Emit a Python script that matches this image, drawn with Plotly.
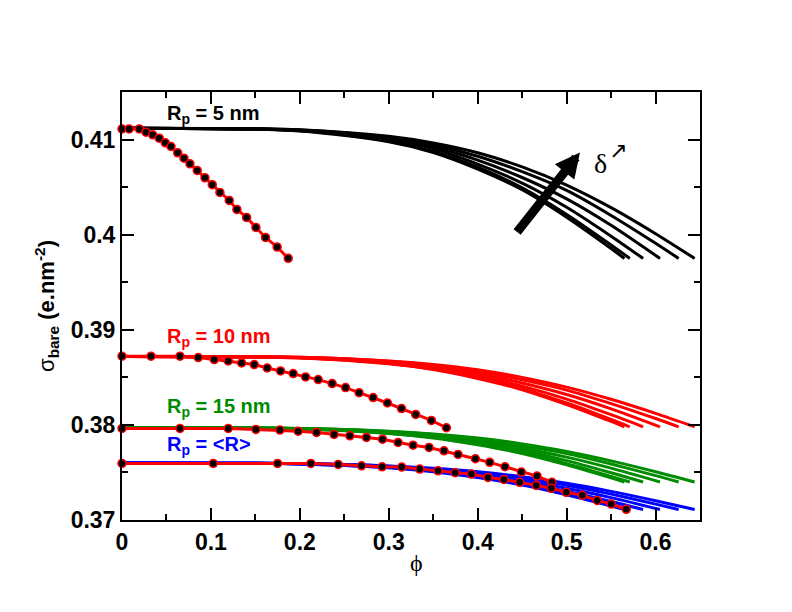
import plotly.graph_objects as go

# phi grid for the six delta curves (same end points in every family)
CURVE_PHI = [
    [0, 0.2, 0.3, 0.35, 0.4, 0.45, 0.5, 0.55, 0.565],
    [0, 0.2, 0.3, 0.35, 0.4, 0.45, 0.5, 0.55, 0.571],
    [0, 0.2, 0.3, 0.35, 0.4, 0.45, 0.5, 0.55, 0.586],
    [0, 0.2, 0.3, 0.35, 0.4, 0.45, 0.5, 0.55, 0.605],
    [0, 0.2, 0.3, 0.35, 0.4, 0.45, 0.5, 0.55, 0.6, 0.626],
    [0, 0.2, 0.3, 0.35, 0.4, 0.45, 0.5, 0.55, 0.6, 0.644],
]

R5_SIGMA = [
    [0.4112, 0.41091, 0.40976, 0.40864, 0.40690, 0.40472, 0.40183, 0.39854, 0.3975],
    [0.4112, 0.41093, 0.40983, 0.40876, 0.40709, 0.40493, 0.40213, 0.39892, 0.3975],
    [0.4112, 0.41095, 0.40997, 0.40904, 0.40742, 0.40542, 0.40288, 0.39984, 0.3975],
    [0.4112, 0.41098, 0.41013, 0.40924, 0.40784, 0.40601, 0.40377, 0.40099, 0.3975],
    [0.4112, 0.41101, 0.41025, 0.40946, 0.40825, 0.40662, 0.40465, 0.40202, 0.3991, 0.3975],
    [0.4112, 0.41104, 0.41034, 0.40964, 0.40861, 0.40712, 0.40521, 0.40284, 0.4001, 0.3975],
]

R10_SIGMA = [
    [0.3872, 0.38704, 0.38642, 0.38582, 0.38488, 0.38370, 0.38214, 0.38036, 0.3798],
    [0.3872, 0.38705, 0.38646, 0.38588, 0.38498, 0.38381, 0.38230, 0.38057, 0.3798],
    [0.3872, 0.38707, 0.38653, 0.38603, 0.38516, 0.38408, 0.38271, 0.38107, 0.3798],
    [0.3872, 0.38708, 0.38662, 0.38614, 0.38539, 0.38440, 0.38319, 0.38169, 0.3798],
    [0.3872, 0.38710, 0.38669, 0.38626, 0.38561, 0.38473, 0.38366, 0.38224, 0.38067, 0.3798],
    [0.3872, 0.38711, 0.38673, 0.38636, 0.38580, 0.38499, 0.38397, 0.38269, 0.38121, 0.3798],
]

R15_SIGMA = [
    [0.3797, 0.37958, 0.37910, 0.37863, 0.37791, 0.37700, 0.37580, 0.37443, 0.3740],
    [0.3797, 0.37959, 0.37913, 0.37869, 0.37799, 0.37709, 0.37593, 0.37459, 0.3740],
    [0.3797, 0.37960, 0.37919, 0.37880, 0.37813, 0.37730, 0.37624, 0.37497, 0.3740],
    [0.3797, 0.37961, 0.37926, 0.37888, 0.37830, 0.37754, 0.37661, 0.37545, 0.3740],
    [0.3797, 0.37962, 0.37931, 0.37898, 0.37847, 0.37780, 0.37698, 0.37588, 0.37467, 0.3740],
    [0.3797, 0.37963, 0.37934, 0.37905, 0.37862, 0.37800, 0.37721, 0.37622, 0.37508, 0.3740],
]

RMEAN_SIGMA = [
    [0.3760, 0.37590, 0.37549, 0.37508, 0.37446, 0.37368, 0.37265, 0.37147, 0.3711],
    [0.3760, 0.37590, 0.37551, 0.37513, 0.37453, 0.37376, 0.37276, 0.37161, 0.3711],
    [0.3760, 0.37591, 0.37556, 0.37523, 0.37465, 0.37393, 0.37303, 0.37194, 0.3711],
    [0.3760, 0.37592, 0.37562, 0.37530, 0.37480, 0.37414, 0.37334, 0.37235, 0.3711],
    [0.3760, 0.37593, 0.37566, 0.37538, 0.37495, 0.37436, 0.37366, 0.37272, 0.37167, 0.3711],
    [0.3760, 0.37594, 0.37569, 0.37544, 0.37507, 0.37454, 0.37386, 0.37301, 0.37203, 0.3711],
]

# reference curves drawn with markers
REF5_PHI = [0, 0.008, 0.0195, 0.027, 0.0345, 0.0419, 0.0487, 0.0551, 0.0626, 0.0697, 0.0764,
            0.0846, 0.0933, 0.1015, 0.1101, 0.1206, 0.1292, 0.1401, 0.1506, 0.1614, 0.1745, 0.1869]
REF5_SIGMA = [0.41112, 0.41112, 0.41112, 0.41077, 0.4105, 0.41014, 0.40966, 0.40927, 0.40861,
              0.40804, 0.40745, 0.40675, 0.40598, 0.40525, 0.40444, 0.4036, 0.40265, 0.40181,
              0.40076, 0.39971, 0.3987, 0.39751]

REF10_PHI = [0, 0.0326, 0.0652, 0.0857, 0.1037, 0.1195, 0.1345, 0.1487, 0.1633, 0.1783, 0.1925,
             0.2064, 0.2206, 0.2363, 0.2514, 0.2666, 0.2824, 0.2985, 0.3143, 0.3303, 0.3479, 0.3648]
REF10_SIGMA = [0.38722, 0.38722, 0.38722, 0.38708, 0.38687, 0.38672, 0.38651, 0.38634, 0.38598,
               0.38567, 0.38539, 0.38504, 0.38476, 0.38434, 0.38392, 0.38339, 0.38287, 0.3823,
               0.38171, 0.3811, 0.38047, 0.3797]

REF15_PHI = [0, 0.0652, 0.1195, 0.1506, 0.1775, 0.1981, 0.2188, 0.2385, 0.2562, 0.2749, 0.2929,
             0.3104, 0.3273, 0.3453, 0.3621, 0.3779, 0.3974, 0.4135, 0.4307, 0.4491, 0.4667, 0.4835]
REF15_SIGMA = [0.37963, 0.37963, 0.37963, 0.37952, 0.37945, 0.37934, 0.37921, 0.379, 0.37885,
               0.37868, 0.3785, 0.37815, 0.37787, 0.37763, 0.37727, 0.37689, 0.37644, 0.37606,
               0.3756, 0.37504, 0.37462, 0.37396]

REFMEAN_PHI = [0, 0.1026, 0.1749, 0.2124, 0.2431, 0.2694, 0.2925, 0.3146, 0.3348, 0.3554, 0.3747,
               0.3929, 0.4116, 0.4295, 0.4472, 0.4659, 0.4828, 0.4996, 0.5176, 0.5345, 0.5502, 0.5671]
REFMEAN_SIGMA = [0.37595, 0.37595, 0.37595, 0.37595, 0.37584, 0.3757, 0.37559, 0.37556, 0.37535,
                 0.37517, 0.37498, 0.37483, 0.37448, 0.37427, 0.37396, 0.37364, 0.37333, 0.37291,
                 0.37259, 0.37206, 0.37168, 0.37112]

GREEN = "#008c00"
SANS = "Liberation Sans, Arial, sans-serif"
SERIF = "Liberation Serif, Times New Roman, serif"

fig = go.Figure()

for sigmas, color in [(R5_SIGMA, "black"), (R10_SIGMA, "red"),
                      (R15_SIGMA, GREEN), (RMEAN_SIGMA, "blue")]:
    for phi, sig in zip(CURVE_PHI, sigmas):
        fig.add_trace(go.Scatter(
            x=phi, y=sig, mode="lines",
            line={"color": color, "width": 3, "shape": "spline", "smoothing": 0.8},
            showlegend=False, hoverinfo="skip",
        ))

for phi, sig in [(REF5_PHI, REF5_SIGMA), (REF10_PHI, REF10_SIGMA),
                 (REF15_PHI, REF15_SIGMA), (REFMEAN_PHI, REFMEAN_SIGMA)]:
    fig.add_trace(go.Scatter(
        x=phi, y=sig, mode="lines+markers",
        line={"color": "red", "width": 3},
        marker={"symbol": "circle", "size": 8, "color": "black",
                "line": {"color": "red", "width": 1.5}},
        showlegend=False, cliponaxis=False,
    ))

labels = [
    ("<b>R<sub>p</sub> = 5 nm</b>", 0.41268, "black"),
    ("<b>R<sub>p</sub> = 10 nm</b>", 0.38916, "red"),
    ("<b>R<sub>p</sub> = 15 nm</b>", 0.38181, GREEN),
    ("<b>R<sub>p</sub> = &lt;R&gt;</b>", 0.37787, "blue"),
]
for text, yv, color in labels:
    fig.add_annotation(x=0.0483, y=yv, xref="x", yref="y", text=text, showarrow=False,
                       xanchor="left", yanchor="middle",
                       font={"family": SANS, "size": 20, "color": color})

# thick delta arrow
fig.add_annotation(x=0.515, y=0.40864, ax=0.443, ay=0.40013, xref="x", yref="y",
                   axref="x", ayref="y", text="", showarrow=True,
                   arrowhead=2, arrowsize=0.55, arrowwidth=9, arrowcolor="black")
fig.add_annotation(x=0.538, y=0.40748, xref="x", yref="y", text="δ", showarrow=False,
                   font={"family": SERIF, "size": 28, "color": "black"})
fig.add_annotation(x=0.558, y=0.40890, xref="x", yref="y", text="↗", showarrow=False,
                   font={"family": "DejaVu Sans", "size": 22, "color": "black"})

# x axis title placed by hand, a little closer to the tick labels than plotly puts it
fig.add_annotation(x=0.509, y=-0.1, xref="paper", yref="paper", text="ϕ", showarrow=False,
                   xanchor="center", yanchor="middle",
                   font={"family": SERIF, "size": 24, "color": "black"})

axis_common = dict(
    showline=True, linecolor="black", linewidth=2, mirror="ticks",
    ticks="inside", ticklen=12, tickwidth=2, tickcolor="black",
    showgrid=False, zeroline=False,
    tickfont={"family": SANS, "size": 23, "color": "black", "weight": "bold"},
)

fig.update_xaxes(
    range=[0, 0.65], dtick=0.1, tick0=0,
    minor={"dtick": 0.05, "ticks": "inside", "ticklen": 6, "tickwidth": 2, "tickcolor": "black"},
    **axis_common,
)
fig.update_yaxes(
    range=[0.37, 0.415], dtick=0.01, tick0=0.37,
    minor={"dtick": 0.005, "ticks": "inside", "ticklen": 6, "tickwidth": 2, "tickcolor": "black"},
    title={"text": "σ<sub><b>bare</b></sub> <b>(e.nm<sup>-2</sup>)</b>",
           "font": {"family": SANS, "size": 22, "color": "black"}, "standoff": 10},
    **axis_common,
)

# the page body adds a small offset, so the figure is made a little smaller
fig.update_layout(
    width=784, height=604,
    margin={"l": 114, "r": 92, "t": 84, "b": 92},
    paper_bgcolor="white", plot_bgcolor="white",
    showlegend=False,
)

fig.write_html("out.html")
